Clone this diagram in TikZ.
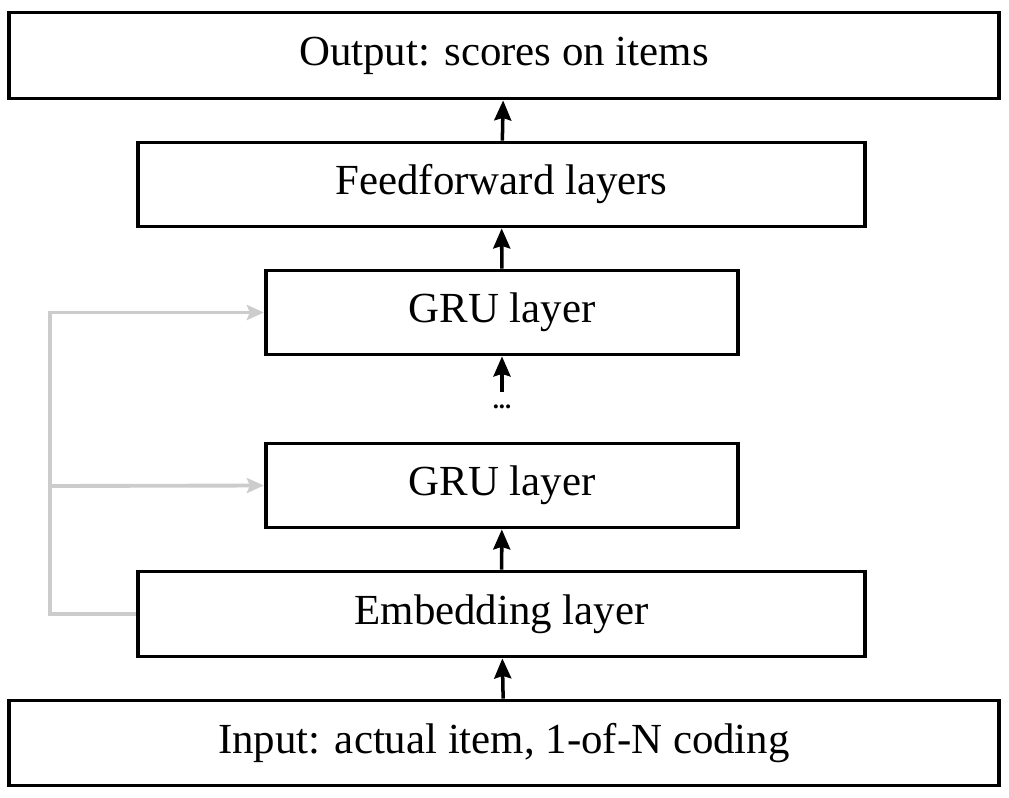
\documentclass[tikz,border=0pt]{standalone}
\usepackage{fontspec}
\setmainfont{Liberation Serif}
\usetikzlibrary{arrows.meta}
\definecolor{skipgray}{RGB}{204,204,204}
\tikzset{
  layer/.style={draw, line width=2.2pt, inner sep=0pt, align=center,
    font=\fontsize{24.4}{29}\selectfont},
  flow/.style={line width=2pt, -{Stealth[length=0.4cm, width=0.34cm, inset=0.05cm]}},
  skip/.style={skipgray, line width=2.2pt, -{Stealth[length=0.34cm, width=0.3cm, inset=0.06cm]}}
}
\begin{document}
\begin{tikzpicture}[x=0.02cm, y=-0.02cm]
        \useasboundingbox (0,0) rectangle (1009,798);
        
        % Stacked layers, bottom to top
        \node[layer, minimum width=19.8cm, minimum height=1.7cm] (input) at (504,743) {Input: actual item, 1-of-N coding};
        \node[layer, minimum width=14.55cm, minimum height=1.7cm] (embed) at (501.5,614) {Embedding layer};
        \node[layer, minimum width=9.45cm, minimum height=1.68cm] (gru1) at (502,485.5) {GRU layer};
        \node[font=\fontsize{14}{16}\selectfont\bfseries] (dots) at (502,407) {...};
        \node[layer, minimum width=9.45cm, minimum height=1.68cm] (gru2) at (502,312.5) {GRU layer};
        \node[layer, minimum width=14.55cm, minimum height=1.68cm] (ffwd) at (501.5,184.5) {Feedforward layers};
        \node[layer, minimum width=19.8cm, minimum height=1.72cm] (output) at (504,55.5) {Output: scores on items};
        
        % Forward connections
        \draw[flow] (input) -- (embed);
        \draw[flow] (embed) -- (gru1);
        \draw[flow] ([yshift=0.3cm]dots.center) -- (gru2);
        \draw[flow] (gru2) -- (ffwd);
        \draw[flow] (ffwd) -- (output);
        
        % Embedding fed to every GRU layer
        \coordinate (bend) at (50,614);
        \coordinate (split) at (50,486);
        \draw[skip] (embed.west) -- (bend) |- (gru2.west);
        \draw[skip] (split) -- (gru1.west);
    \end{tikzpicture}
\end{document}
